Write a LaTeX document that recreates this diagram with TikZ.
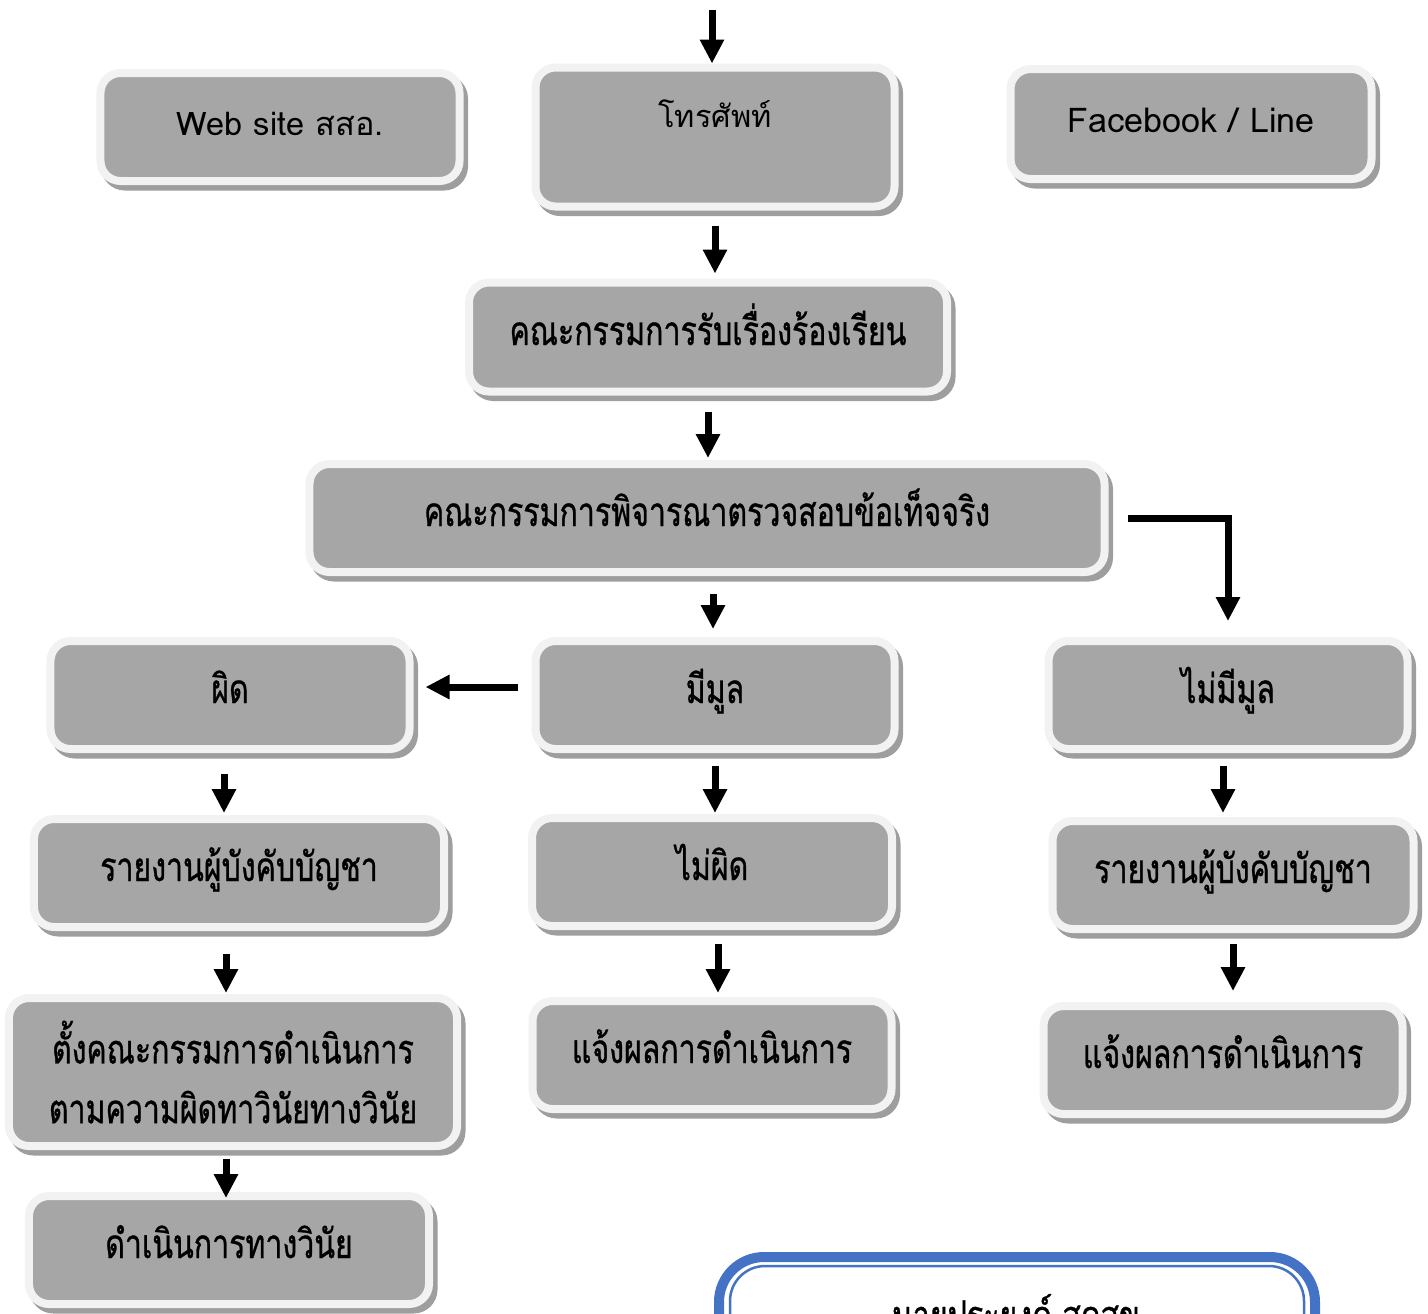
\documentclass[tikz,border=0pt]{standalone}
\usepackage{fontspec}
\setmainfont{Loma}[Script=Thai]
\newfontfamily\thaibox{Loma}[Script=Thai,FakeStretch=0.75,FakeBold=0.8]
\usetikzlibrary{arrows.meta,shadows}

\definecolor{boxgray}{HTML}{A6A6A6}
\definecolor{boxrim}{HTML}{F2F2F2}
\definecolor{signblue}{HTML}{4472C4}

\begin{document}
\begin{tikzpicture}[x=0.2mm,y=-0.2mm,
    boxbase/.style={rectangle,rounded corners=4mm,fill=boxgray,draw=boxrim,line width=1.6mm,
      drop shadow={shadow xshift=0.9mm,shadow yshift=-1.1mm,fill=black!38,draw=black!38,opacity=1},
      minimum width=71.8mm,minimum height=21.6mm,inner sep=0pt,align=center,
      font=\thaibox\fontsize{23}{34}\selectfont},
    box/.style={boxbase,text height=6mm,text depth=2.8mm},
    plainbox/.style={box,font=\fontsize{18.5}{22}\selectfont},
    arr/.style={line width=1.4mm,-{Triangle[width=4.6mm,length=4.8mm]}}]
    \useasboundingbox (0,0) rectangle (1428,1313);

    % ways in
    \node[plainbox] (web) at (280,127) {Web site สสอ.};
    \node[box,font=\fontsize{17.5}{24}\selectfont,minimum height=27.8mm,text height=4mm,text depth=8mm] (phone) at (715,137) {โทรศัพท์};
    \node[plainbox,font=\fontsize{19.4}{22}\selectfont,minimum width=72.2mm,minimum height=22mm] (fb) at (1191,124) {Facebook / Line};
    \coordinate (entry) at (712,10);

    % committees
    \node[box,minimum width=95.6mm,minimum height=21.8mm] (recv) at (708,337) {คณะกรรมการรับเรื่องร้องเรียน};
    \node[box,minimum width=159mm] (check) at (707,518) {คณะกรรมการพิจารณาตรวจสอบข้อเท็จจริง};

    % results
    \node[box] (guilty) at (230,695) {ผิด};
    \node[box] (basis) at (715,695) {มีมูล};
    \node[box] (nobasis) at (1228,695) {ไม่มีมูล};
    \node[box,minimum width=82mm] (reportL) at (239,873) {รายงานผู้บังคับบัญชา};
    \node[box,minimum width=72mm] (notguilty) at (712,872) {ไม่ผิด};
    \node[box,minimum width=72.2mm] (reportR) at (1233,875) {รายงานผู้บังคับบัญชา};
    \node[boxbase,minimum width=89.6mm,minimum height=29.6mm] (panel) at (233,1072)
        {ตั้งคณะกรรมการดำเนินการ\\ตามความผิดทาวินัยทางวินัย};
    \node[box] (notifyM) at (712,1055) {แจ้งผลการดำเนินการ};
    \node[box] (notifyR) at (1223,1060) {แจ้งผลการดำเนินการ};
    \node[box,minimum width=80mm] (discipline) at (229,1250) {ดำเนินการทางวินัย};

    % arrows
    \draw[arr] (entry) -- (entry |- phone.north);
    \draw[arr,shorten <=3mm,shorten >=1mm] (phone.south) -- (phone.south |- recv.north);
    \draw[arr,shorten <=3.2mm,shorten >=0.4mm] (recv.south) -- (recv.south |- check.north);
    \draw[arr,shorten <=3.6mm,shorten >=1.6mm] ([xshift=1.2mm]check.south) -- ([xshift=1.2mm]check.south |- basis.north);
    \draw[arr,shorten <=3.8mm,shorten >=3.2mm] (check.east) -| (nobasis.north);
    \draw[arr,shorten <=2.8mm,shorten >=2.4mm] ([yshift=1.6mm]basis.west) -- ([yshift=1.6mm]basis.west -| guilty.east);
    \draw[arr,shorten <=4.2mm,shorten >=0.4mm] ([xshift=-1.2mm]guilty.south) -- ([xshift=-1.2mm]guilty.south |- reportL.north);
    \draw[arr,shorten <=2.6mm,shorten >=0.2mm] (basis.south) -- (basis.south |- notguilty.north);
    \draw[arr,shorten <=2.6mm,shorten >=0.8mm] ([xshift=-1mm]nobasis.south) -- ([xshift=-1mm]nobasis.south |- reportR.north);
    \draw[arr,shorten <=4.6mm,shorten >=0.2mm] ([xshift=-2.6mm]reportL.south) -- ([xshift=-2.6mm]reportL.south |- panel.north);
    \draw[arr,shorten <=2.8mm,shorten >=0.8mm] ([xshift=1.2mm]notguilty.south) -- ([xshift=1.2mm]notguilty.south |- notifyM.north);
    \draw[arr,shorten <=2.2mm,shorten >=2.2mm] (reportR.south) -- (reportR.south |- notifyR.north);
    \draw[arr,shorten <=1.8mm,shorten >=-1.2mm] ([xshift=-1.4mm]panel.south) -- ([xshift=-1.4mm]panel.south |- discipline.north);

    % signature frame
    \draw[signblue,line width=2mm,rounded corners=9mm] (719,1257) rectangle (1315,1420);
    \draw[signblue,line width=0.5mm,rounded corners=7mm] (730,1266) rectangle (1304,1420);
    \node[font=\thaibox\fontsize{23}{24}\selectfont] (signer) at (1016,1317) {นายประยงค์ สุดสุข};
\end{tikzpicture}
\end{document}
